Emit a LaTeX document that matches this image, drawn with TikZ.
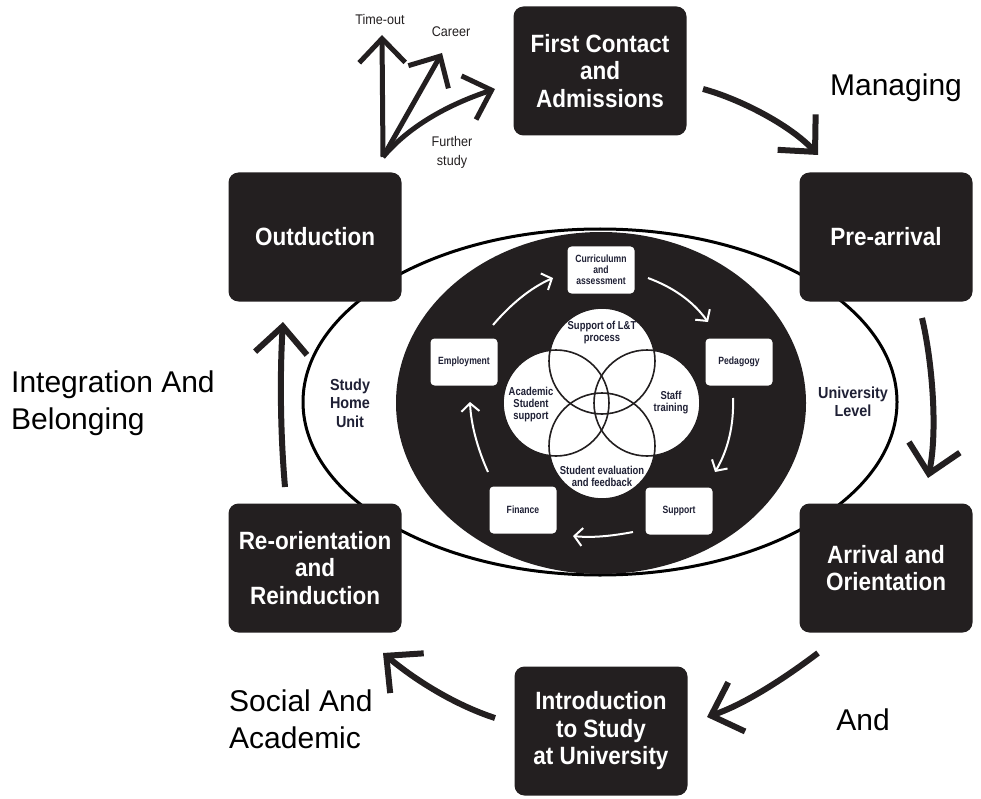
\documentclass[tikz,border=0pt]{standalone}
\usepackage{fontspec}
\setmainfont{Liberation Sans}
\newfontfamily\cond[FakeStretch=0.9]{Liberation Sans}
\newfontfamily\condn[FakeStretch=0.82]{Liberation Sans}
\usetikzlibrary{arrows.meta}
\definecolor{boxblack}{HTML}{231F20}
\definecolor{navy}{HTML}{1F2035}
\tikzset{
  bigbox/.style={fill=boxblack, rounded corners=10pt, minimum width=173pt, minimum height=129pt,
    text=white, font=\cond\bfseries\fontsize{25}{27.5}\selectfont, align=center, inner sep=0pt},
  smallbox/.style={fill=white, rounded corners=4pt, minimum width=67pt, minimum height=47pt,
    text=navy, font=\condn\bfseries\fontsize{10.5}{11}\selectfont, align=center, inner sep=0pt},
  bigarrow/.style={line width=6pt, draw=boxblack, -{Straight Barb[length=27pt,width=52pt]}},
  outarrow/.style={line width=5pt, draw=boxblack, -{Straight Barb[length=24pt,width=46pt]}},
  whitearrow/.style={line width=2pt, draw=white, -{Straight Barb[length=8pt,width=18pt]}},
  outerlabel/.style={font=\fontsize{30}{37}\selectfont, text=black, inner sep=0pt},
  smalllabel/.style={font=\cond\fontsize{14}{19}\selectfont, text=boxblack, inner sep=0pt, align=center},
  unitlabel/.style={font=\cond\bfseries\fontsize{16}{18.5}\selectfont, text=navy, inner sep=0pt, align=center},
  circlabel/.style={font=\condn\bfseries\fontsize{11.5}{12}\selectfont, text=navy, inner sep=0pt, align=center},
}
\begin{document}
\begin{tikzpicture}[x=1pt,y=-1pt]
\useasboundingbox (0,0) rectangle (981,799);

% outer ellipse
\draw[line width=3pt, fill=white] (600,402) ellipse [x radius=297, y radius=173];
% black ellipse
\fill[boxblack] (601,403) ellipse [x radius=205, y radius=171];

% inner unit labels
\node[unitlabel] (shu) at (350,403) {Study\\Home\\Unit};
\node[unitlabel] (ul) at (853,402) {University\\Level};

% small white boxes
\node[smallbox] (cur) at (601,270) {Curriculumn\\and\\assessment};
\node[smallbox] (ped) at (739,362) {Pedagogy};
\node[smallbox] (sup) at (679,511) {Support};
\node[smallbox] (fin) at (523,510) {Finance};
\node[smallbox] (emp) at (464,362) {Employment};

% white cycle arrows
\coordinate (w1s) at (493,325); \coordinate (w1e) at (553,278);
\coordinate (w2s) at (648,278); \coordinate (w2e) at (708,322);
\coordinate (w3s) at (733,398); \coordinate (w3e) at (715,472);
\coordinate (w4s) at (633,532); \coordinate (w4e) at (573,536);
\coordinate (w5s) at (488,472); \coordinate (w5e) at (470,402);
\draw[whitearrow] (w1s) .. controls (510,305) and (530,288) .. (w1e);
\draw[whitearrow] (w2s) .. controls (672,287) and (692,300) .. (w2e);
\draw[whitearrow] (w3s) .. controls (734,425) and (728,450) .. (w3e);
\draw[whitearrow] (w4s) .. controls (612,536) and (592,538) .. (w4e);
\draw[whitearrow] (w5s) .. controls (478,450) and (471,425) .. (w5e);

% four circles
\foreach \n/\cx/\cy in {ct/602/361, cl/556/403, cr/647/403, cb/602/446}{
  \node[circle, fill=white, minimum size=106pt, inner sep=0pt] (\n) at (\cx,\cy) {};
}
\foreach \n in {ct, cl, cr, cb}{
  \draw[line width=1.6pt, boxblack] (\n.center) circle (53);
}
\node[circlabel] (lt) at (602,333) {Support of L\&T\\process};
\node[circlabel] (ll) at (531,405) {Academic\\Student\\support};
\node[circlabel] (lr) at (671,403) {Staff\\training};
\node[circlabel] (lb) at (602,476) {Student evaluation\\and feedback};

% big boxes
\node[bigbox] (fca) at (600,71) {First Contact\\and\\Admissions};
\node[bigbox] (pre) at (886,237) {Pre-arrival};
\node[bigbox] (arr) at (886,568) {Arrival and\\Orientation};
\node[bigbox] (ins) at (601,731) {Introduction\\to Study\\at University};
\node[bigbox] (reo) at (315,568) {Re-orientation\\and\\Reinduction};
\node[bigbox] (out) at (315,237) {Outduction};

% big arrows
\coordinate (a1s) at (703,89);  \coordinate (a1e) at (818,155);
\coordinate (a2s) at (922,318); \coordinate (a2e) at (928,478);
\coordinate (a3s) at (818,653); \coordinate (a3e) at (707,717);
\coordinate (a4s) at (495,718); \coordinate (a4e) at (383,653);
\coordinate (a5s) at (285,487); \coordinate (a5e) at (283,322);
\draw[bigarrow] (a1s) .. controls (740,99) and (790,125) .. (a1e);
\draw[bigarrow] (a2s) .. controls (932,360) and (938,430) .. (a2e);
\draw[bigarrow] (a3s) .. controls (785,678) and (745,704) .. (a3e);
\draw[bigarrow] (a4s) .. controls (455,705) and (415,680) .. (a4e);
\draw[bigarrow] (a5s) .. controls (280,430) and (280,370) .. (a5e);

% outduction branch arrows
\coordinate (ob) at (383,157);
\coordinate (ot) at (382,35);
\coordinate (oc) at (442,53);
\coordinate (of) at (495,89);
\draw[outarrow] (ob) -- (ot);
\draw[outarrow] (ob) -- (oc);
\draw[outarrow] (ob) .. controls (410,125) and (450,104) .. (of);

\node[smalllabel] (tol) at (380,20) {Time-out};
\node[smalllabel] (cal) at (451,32) {Career};
\node[smalllabel] (fsl) at (452,152) {Further\\study};

% outer labels
\node[outerlabel] (mg) at (896,88) {Managing};
\node[outerlabel, anchor=west, align=left] (ib) at (11,403) {Integration And\\Belonging};
\node[outerlabel, anchor=west, align=left] (sa) at (229,719) {Social And\\Academic};
\node[outerlabel] (an) at (863,720) {And};
\end{tikzpicture}
\end{document}
